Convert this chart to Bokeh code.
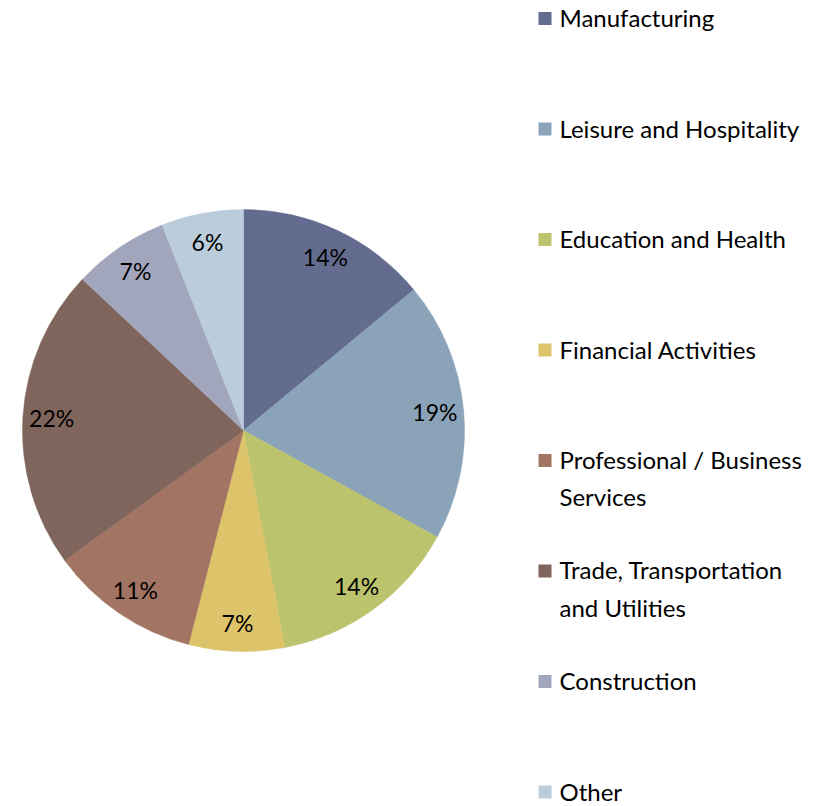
import numpy as np
from bokeh.plotting import figure
from bokeh.models import Range1d, ColumnDataSource
from bokeh.core.properties import value
from bokeh.embed import file_html
from bokeh.resources import INLINE

categories = ["Manufacturing", "Leisure and Hospitality", "Education and Health",
              "Financial Activities", "Professional / Business\nServices",
              "Trade, Transportation\nand Utilities", "Construction", "Other"]
shares = [14, 19, 14, 7, 11, 22, 7, 6]
colors = ["#636B8F", "#8BA3B8", "#BBC36C", "#DDC36A", "#A27463", "#7F655B", "#A2A6BD", "#BBCCDB"]
labels = [f"{v}%" for v in shares]

W, H = 827, 806
p = figure(width=W, height=H, output_backend="svg", toolbar_location=None,
           x_range=Range1d(0, W), y_range=Range1d(0, H), min_border=0)
p.axis.visible = False
p.grid.visible = False
p.outline_line_color = None
p.background_fill_color = "white"

cx, cy, r = 243, H - 430, 221
vals = np.array(shares, dtype=float)
frac = vals / vals.sum()
cum = np.concatenate([[0], np.cumsum(frac)])
start = np.pi / 2 - cum[:-1] * 2 * np.pi
end = np.pi / 2 - cum[1:] * 2 * np.pi
mid = (start + end) / 2

src = ColumnDataSource(dict(start=start, end=end, color=colors))
p.wedge(x=cx, y=cy, radius=r, start_angle="start", end_angle="end", direction="clock",
        fill_color="color", line_color="color", line_width=0.5, source=src)

lr = 0.87 * r
p.text(x=cx + lr * np.cos(mid), y=cy + lr * np.sin(mid), text=labels,
       text_align="center", text_baseline="middle", text_font=value("Lato"),
       text_font_size="23px", text_color="black")

# legend
step = 110.5
ly = [H - 18 - i * step for i in range(len(categories))]
p.rect(x=[544.5] * len(categories), y=ly, width=13, height=13, fill_color=colors, line_color=None)

multi_idx = [i for i, c in enumerate(categories) if "\n" in c]
single_idx = [i for i, c in enumerate(categories) if "\n" not in c]

p.text(x=[559] * len(single_idx), y=[ly[i] + 1 for i in single_idx],
       text=[categories[i] for i in single_idx],
       text_align="left", text_baseline="middle", text_font=value("Lato"),
       text_font_size="24px", text_color="black", text_line_height=1.0)
p.text(x=[559] * len(multi_idx), y=[ly[i] + 16 for i in multi_idx],
       text=[categories[i] for i in multi_idx],
       text_align="left", text_baseline="top", text_font=value("Lato"),
       text_font_size="24px", text_color="black", text_line_height=1.3)

open("out.html", "w").write(file_html(p, INLINE))
